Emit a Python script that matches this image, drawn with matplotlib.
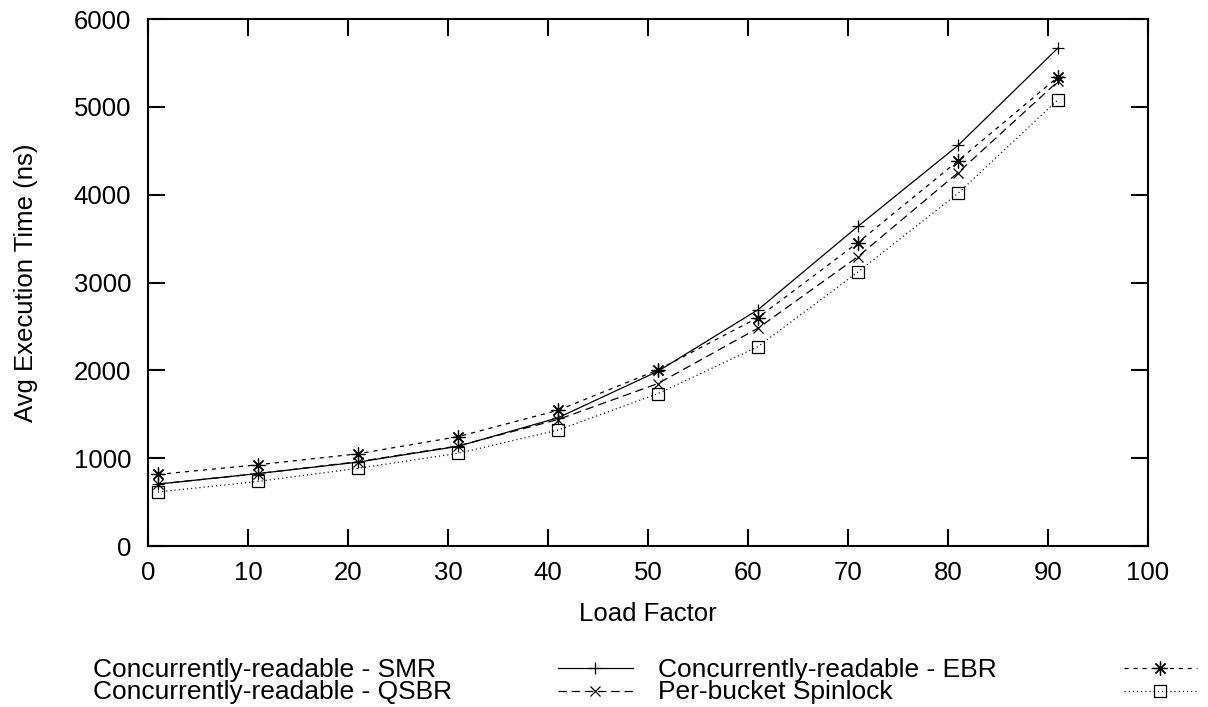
import matplotlib
matplotlib.use("Agg")
import matplotlib.pyplot as plt
from matplotlib.lines import Line2D

plt.rcParams['font.family'] = ['Liberation Sans', 'DejaVu Sans']
plt.rcParams['lines.scale_dashes'] = False

# ---------------- Data ----------------
load_factor = [1, 11, 21, 31, 41, 51, 61, 71, 81, 91]

smr = [705, 825, 955, 1135, 1460, 1990, 2690, 3640, 4560, 5670]
ebr = [815, 925, 1050, 1245, 1545, 2005, 2600, 3455, 4385, 5340]
qsbr = [705, 825, 960, 1140, 1440, 1850, 2480, 3295, 4250, 5290]
spinlock = [615, 735, 885, 1055, 1320, 1735, 2270, 3120, 4015, 5080]

labels = ["Concurrently-readable - SMR", "Concurrently-readable - EBR",
          "Concurrently-readable - QSBR", "Per-bucket Spinlock"]
series = [smr, ebr, qsbr, spinlock]

# ---------------- Styles ----------------
styles = [
    dict(linestyle="-", marker="+", markersize=9),
    dict(linestyle=(0, (3, 3.5)), marker=(8, 2, 0), markersize=10),
    dict(linestyle=(0, (6, 3.5)), marker="x", markersize=7),
    dict(linestyle=(0, (0.8, 2.2)), marker="s", markersize=9, markerfacecolor="none"),
]
FS = 18.5
LEG_FS = 19

fig = plt.figure(figsize=(12.08, 7.07), dpi=100)
ax = fig.add_axes([0.1225, 0.2277, 0.8278, 0.7454])

for vals, st in zip(series, styles):
    ax.plot(load_factor, vals, color="black", linewidth=0.9,
            markeredgewidth=0.9, **st)

ax.set_xlim(0, 100)
ax.set_ylim(0, 6000)
ax.set_xticks(range(0, 101, 10))
ax.set_yticks(range(0, 6001, 1000))
ax.tick_params(direction="in", length=12, width=1.5, labelsize=FS,
               top=True, right=True)
ax.tick_params(axis="x", pad=11)
ax.tick_params(axis="y", pad=12)
for sp in ax.spines.values():
    sp.set_linewidth(1.5)

ax.set_xlabel("Load Factor", fontsize=FS, va="center")
ax.set_ylabel("Avg Execution Time (ns)", fontsize=FS, va="center")
ax.xaxis.set_label_coords(0.5, -0.129)
ax.yaxis.set_label_coords(-0.122, 0.5)

# ---------------- Legend (gnuplot style: text left, sample right) ----------------
text_x = [0.077, 0.545]
handle_x = [(0.4619, 0.5240), (0.9305, 0.9905)]
text_y = [0.0424, 0.0113]
handle_y = [0.0545, 0.0233]
for i, (lab, st) in enumerate(zip(labels, styles)):
    col, row = i % 2, i // 2
    fig.text(text_x[col], text_y[row], lab, fontsize=LEG_FS, va="baseline", ha="left")
    x0, x1 = handle_x[col]
    y = handle_y[row]
    st_line = {k: v for k, v in st.items() if k not in ("marker", "markersize", "markerfacecolor")}
    fig.add_artist(Line2D([x0, x1], [y, y], color="black", linewidth=0.9,
                          transform=fig.transFigure, **st_line))
    fig.add_artist(Line2D([(x0 + x1) / 2], [y], color="black", linestyle="none",
                          marker=st["marker"], markersize=st["markersize"],
                          markerfacecolor=st.get("markerfacecolor", "black"),
                          markeredgewidth=0.9, transform=fig.transFigure))

fig.savefig("out.png", dpi=100)
